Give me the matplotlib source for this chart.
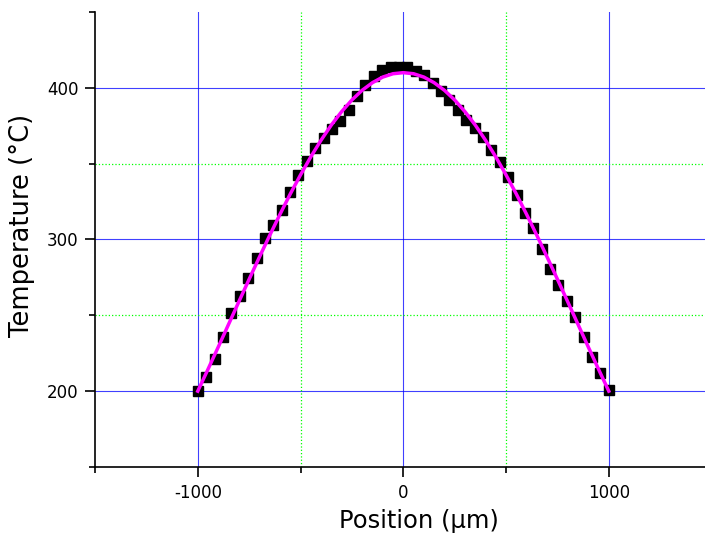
import matplotlib
matplotlib.use("Agg")
import matplotlib.pyplot as plt
from matplotlib.ticker import MultipleLocator

plt.rcParams["axes.unicode_minus"] = False

# measured profile (markers)
position = [
    -1000, -959, -918, -878, -837, -796, -755, -714, -673, -633,
    -592, -551, -510, -469, -429, -388, -347, -306, -265, -224,
    -184, -143, -102, -61, -20, 20, 61, 102, 143, 184,
    224, 265, 306, 347, 388, 429, 469, 510, 551, 592,
    633, 673, 714, 755, 796, 837, 878, 918, 959, 1000,
]
temperature = [
    200.2, 209.4, 220.9, 235.4, 251.3, 262.7, 274.8, 288.0, 300.8, 309.6,
    319.5, 331.4, 342.6, 352.0, 360.2, 366.8, 372.7, 378.2, 385.5, 394.7,
    402.0, 407.9, 411.5, 413.5, 414.0, 413.5, 410.8, 408.6, 403.1, 397.6,
    392.1, 385.5, 378.9, 373.4, 367.9, 359.1, 351.4, 341.5, 329.4, 317.3,
    307.4, 293.5, 280.3, 270.0, 259.6, 249.1, 235.5, 222.7, 211.7, 201.0,
]

# fitted curve
fit_position = [
    -1000, -950, -900, -850, -800, -750, -700, -650, -600, -550,
    -500, -450, -400, -350, -300, -250, -200, -150, -100, -50,
    0, 50, 100, 150, 200, 250, 300, 350, 400, 450,
    500, 550, 600, 650, 700, 750, 800, 850, 900, 950, 1000,
]
fit_temperature = [
    200.0, 214.5, 229.2, 244.1, 259.0, 273.8, 288.4, 302.7, 316.6, 330.0,
    342.6, 354.5, 365.5, 375.5, 384.3, 392.0, 398.4, 403.4, 407.1, 409.3,
    410.0, 409.3, 407.1, 403.4, 398.4, 392.0, 384.3, 375.5, 365.5, 354.5,
    342.6, 330.0, 316.6, 302.7, 288.4, 273.8, 259.0, 244.1, 229.2, 214.5, 200.0,
]

x_major = [-1000, 0, 1000]
x_minor = [-500, 500]
y_major = [200, 300, 400]
y_minor = [250, 350]

fig = plt.figure(figsize=(7.05, 5.4), dpi=100)
# the frame runs past the right edge of the picture
ax = fig.add_axes([95 / 705, 73 / 540, 648 / 705, 455 / 540])

# grid drawn by hand so the frame edges stay clear
for xv in x_major:
    ax.axvline(xv, color="blue", linewidth=0.8, alpha=0.75, zorder=1)
for yv in y_major:
    ax.axhline(yv, color="blue", linewidth=0.8, alpha=0.75, zorder=1)
for xv in x_minor:
    ax.axvline(xv, color="#00ff00", linewidth=0.9, linestyle=":", zorder=1)
for yv in y_minor:
    ax.axhline(yv, color="#00ff00", linewidth=0.9, linestyle=":", zorder=1)

ax.plot(position, temperature, "s", color="black", markersize=6.5, zorder=3)
ax.plot(fit_position, fit_temperature, color="#ff00ff", linewidth=2.5,
        solid_joinstyle="round", zorder=4)

ax.set_xlim(-1500, 1653)
ax.set_ylim(150, 450)
ax.xaxis.set_major_locator(MultipleLocator(1000))
ax.xaxis.set_minor_locator(MultipleLocator(500))
ax.yaxis.set_major_locator(MultipleLocator(100))
ax.yaxis.set_minor_locator(MultipleLocator(50))

for side in ["top", "right"]:
    ax.spines[side].set_visible(False)
for side in ["left", "bottom"]:
    ax.spines[side].set_linewidth(1.2)

ax.tick_params(which="major", direction="out", length=7, width=1.2,
               labelsize=12, pad=5)
ax.tick_params(which="minor", direction="out", length=4, width=1.2)

ax.set_xlabel("Position (µm)", fontsize=17.5)
ax.set_ylabel("Temperature (°C)", fontsize=18.5)
ax.xaxis.set_label_coords(0.5, -0.092)
ax.yaxis.set_label_coords(-0.092, 0.532)

fig.savefig("out.png", dpi=100)
